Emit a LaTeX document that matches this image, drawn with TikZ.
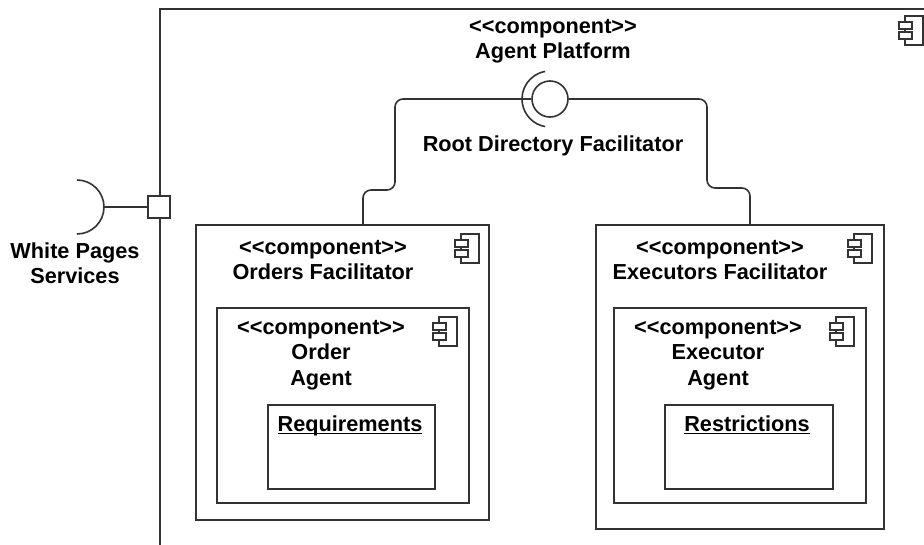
\documentclass[tikz,border=0pt]{standalone}
\usepackage{fontspec}
\setmainfont{Liberation Sans}
\usetikzlibrary{shapes}
\newcommand{\stereo}{<{}<component>{}>}
\newcommand{\ulname}[1]{\underline{\smash{#1}\vphantom{R}}}

\begin{document}
\begin{tikzpicture}[x=1pt, y=-1pt, line width=1.6pt,
  font=\fontsize{21.7}{25.5}\selectfont\bfseries,
  box/.style={rectangle, draw=black!80, fill=white, inner sep=0pt},
  label/.style={align=center, inner sep=0pt}]
\clip (0,0) rectangle (924,544);

% outer component
\node[box, anchor=north west, minimum width=820pt, minimum height=600pt, line width=2pt] (platform) at (159,8) {};
\node[label] (platformtxt) at (553,41) {\stereo\\Agent Platform};

% facilitators
\node[box, minimum width=293pt, minimum height=295pt] (orders) at (342.5,372.5) {};
\node[box, minimum width=252pt, minimum height=195pt] (oagent) at (343,405.5) {};
\node[box, minimum width=167pt, minimum height=84pt] (req) at (351.5,447) {};
\node[box, minimum width=288pt, minimum height=304pt] (execs) at (740,377) {};
\node[box, minimum width=252pt, minimum height=195pt] (eagent) at (740,405.5) {};
\node[box, minimum width=168pt, minimum height=84pt] (restr) at (749,447) {};

\node[label] (orderstxt) at (323,260) {\stereo\\Orders Facilitator};
\node[label] (oagenttxt) at (321,355) {\stereo\\Order\\Agent};
\node[label] (reqtxt) at (350,425) {\ulname{Requirements}};
\node[label] (execstxt) at (720,260) {\stereo\\Executors Facilitator};
\node[label] (eagenttxt) at (718,355) {\stereo\\Executor\\Agent};
\node[label] (restrtxt) at (747,425) {\ulname{Restrictions}};

% component icons
\foreach \ix/\iy in {461/234, 439/317, 854/234, 836/317, 905/16} {
  \draw[line width=1.2pt, draw=black!80, fill=white] (\ix,\iy) rectangle (\ix+18,\iy+29);
  \draw[line width=1.2pt, draw=black!80, fill=white] (\ix-6,\iy+6) rectangle (\ix+7,\iy+13);
  \draw[line width=1.2pt, draw=black!80, fill=white] (\ix-6,\iy+16) rectangle (\ix+7,\iy+23);
}

% provided interface
\node[circle, draw=black!80, fill=white, minimum size=36pt, inner sep=0pt] (rdf) at (550,99) {};
\draw[draw=black!80] ([shift={(100:28pt)}]rdf.center) arc[start angle=100, end angle=260, radius=28pt];
\node[label] (rdftxt) at (553,146) {Root Directory Facilitator};

\draw[draw=black!80, rounded corners=8pt] (rdf.west) -| (395,190) -| (363,0 |- orders.north);
\draw[draw=black!80, rounded corners=8pt] (rdf.east) -| (707,188) -| (750,0 |- execs.north);

% port and required interface
\node[box, minimum size=22pt] (port) at (159,207) {};
\coordinate (wpsock) at (104,207);
\draw[draw=black!80] (port.west) -- (wpsock);
\draw[draw=black!80] (77,180) arc[start angle=90, end angle=-90, radius=27pt];
\node[label] (wptxt) at (75,263) {White Pages\\Services};
\end{tikzpicture}
\end{document}
